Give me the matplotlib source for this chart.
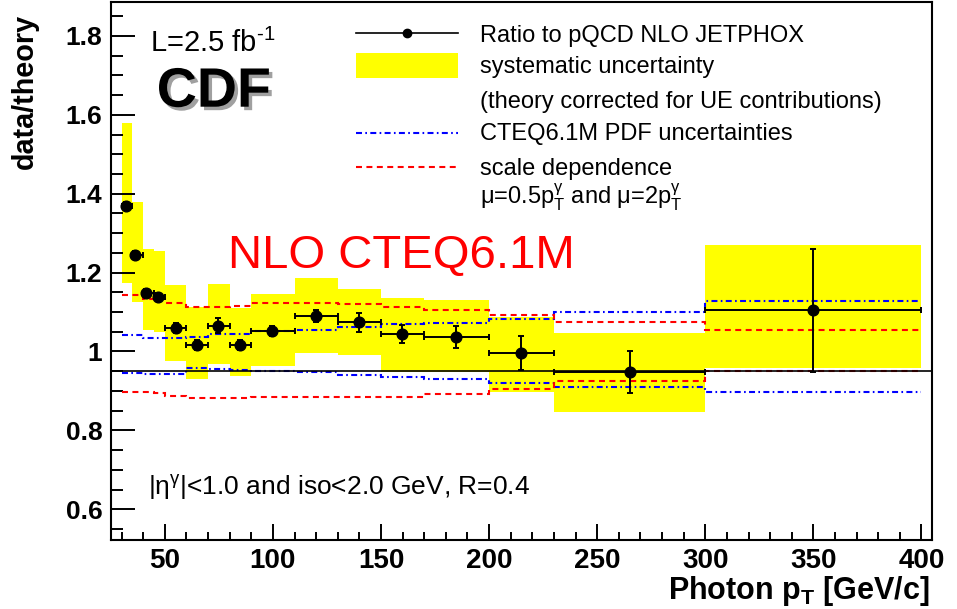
import matplotlib
matplotlib.use("Agg")
import matplotlib.pyplot as plt
import matplotlib.patheffects as pe
from matplotlib.lines import Line2D
from matplotlib.patches import Rectangle
from matplotlib.ticker import MultipleLocator, FuncFormatter
import numpy as np

plt.rcParams['font.family'] = ['Liberation Sans', 'DejaVu Sans']
plt.rcParams['mathtext.fontset'] = 'custom'
plt.rcParams['mathtext.rm'] = 'Liberation Sans'
plt.rcParams['mathtext.it'] = 'Liberation Sans:italic'
plt.rcParams['mathtext.bf'] = 'Liberation Sans:bold'
plt.rcParams['lines.scale_dashes'] = False

# bin edges in photon pT [GeV/c]
edges = [30, 35, 40, 45, 50, 60, 70, 80, 90, 110, 130, 150, 170, 200, 230, 300, 400]

# measured ratio data/theory
pt = [31.9, 36.4, 41.5, 46.9, 55.1, 64.8, 74.8, 85.0, 99.7, 120.0, 140.0, 159.7, 184.8, 214.8, 265.0, 350.0]
ratio = [1.369, 1.245, 1.148, 1.139, 1.059, 1.016, 1.065, 1.016, 1.052, 1.089, 1.074, 1.045, 1.037, 0.996, 0.947, 1.104]
stat = [0.01, 0.01, 0.01, 0.01, 0.012, 0.012, 0.019, 0.012, 0.012, 0.015, 0.024, 0.023, 0.028, 0.042, 0.053, 0.156]

# systematic band (low / high edge per bin)
sys_lo = [1.173, 1.125, 1.054, 1.050, 0.976, 0.931, 0.967, 0.937, 0.964, 0.995, 0.990, 0.948, 0.948, 0.897, 0.847, 0.958]
sys_hi = [1.580, 1.380, 1.259, 1.255, 1.169, 1.112, 1.172, 1.111, 1.145, 1.185, 1.159, 1.136, 1.130, 1.088, 1.046, 1.271]

# CTEQ6.1M PDF uncertainties
pdf_up = [1.041, 1.041, 1.035, 1.035, 1.035, 1.037, 1.045, 1.045, 1.051, 1.055, 1.062, 1.069, 1.073, 1.083, 1.100, 1.127]
pdf_lo = [0.946, 0.946, 0.944, 0.944, 0.944, 0.957, 0.955, 0.954, 0.951, 0.947, 0.941, 0.935, 0.929, 0.920, 0.911, 0.897]

# scale dependence mu=0.5pT and mu=2pT
scale_up = [1.144, 1.142, 1.134, 1.134, 1.123, 1.113, 1.113, 1.116, 1.124, 1.124, 1.120, 1.113, 1.104, 1.092, 1.075, 1.054]
scale_lo = [0.896, 0.896, 0.896, 0.894, 0.887, 0.881, 0.882, 0.883, 0.884, 0.884, 0.884, 0.884, 0.893, 0.904, 0.924, 0.951]

ref_line = 0.951

edges_a = np.array(edges)
pt_a = np.array(pt)
xerr = [pt_a - edges_a[:-1], edges_a[1:] - pt_a]

fig = plt.figure(figsize=(9.57, 6.09), dpi=100)
ax = fig.add_axes([0.1157, 0.1133, 0.8585, 0.8834])

ax.stairs(sys_hi, edges, baseline=sys_lo, fill=True, color='#ffff00', lw=0, zorder=1)

blue_dash = (0, (4.3, 2.4, 1.2, 2.4))
red_dash = (0, (4.3, 3.2))
ax.stairs(pdf_up, edges, baseline=None, color='#0000ff', lw=1.5, linestyle=blue_dash, zorder=2)
ax.stairs(pdf_lo, edges, baseline=None, color='#0000ff', lw=1.5, linestyle=blue_dash, zorder=2)
ax.stairs(scale_up, edges, baseline=None, color='#ff0000', lw=1.5, linestyle=red_dash, zorder=2)
ax.stairs(scale_lo, edges, baseline=None, color='#ff0000', lw=1.5, linestyle=red_dash, zorder=2)

ax.axhline(ref_line, color='black', lw=1.2, zorder=3)

ax.errorbar(pt, ratio, yerr=stat, xerr=xerr, fmt='o', color='black', ms=7.7,
            elinewidth=1.4, capsize=2.5, capthick=1.4, zorder=4)

ax.set_xlim(25, 405)
ax.set_ylim(0.522, 1.886)

ax.xaxis.set_major_locator(MultipleLocator(50))
ax.xaxis.set_minor_locator(MultipleLocator(10))
ax.yaxis.set_major_locator(MultipleLocator(0.2))
ax.yaxis.set_minor_locator(MultipleLocator(0.05))
ax.yaxis.set_major_formatter(FuncFormatter(lambda v, p: '%g' % round(v, 2)))

ax.tick_params(axis='both', which='both', direction='in', width=1.4, top=False, right=False)
ax.tick_params(axis='x', which='major', length=11.5, labelsize=20, pad=6)
ax.tick_params(axis='x', which='minor', length=5.8)
ax.tick_params(axis='y', which='major', length=17, labelsize=19, pad=6)
ax.tick_params(axis='y', which='minor', length=8.6)
for lab in ax.get_xticklabels() + ax.get_yticklabels():
    lab.set_fontweight('bold')
for s in ax.spines.values():
    s.set_linewidth(1.5)

fig.text(25 / 957, 1 - 14 / 609, 'data/theory', rotation=90, ha='center', va='top',
         fontsize=20.7, fontweight='bold')
fig.text(930 / 957, 1 - 599 / 609, r'Photon p$_\mathbf{T}$ [GeV/c]', ha='right', va='baseline',
         fontsize=22, fontweight='bold')

ax.text(0.0478, 0.9076, r'L=2.5 fb$^{\text{-}1}$', transform=ax.transAxes, fontsize=21, va='baseline')
ax.text(0.056, 0.8054, 'CDF', transform=ax.transAxes, fontsize=40, fontweight='bold', va='baseline',
        path_effects=[pe.SimplePatchShadow(offset=(2.5, -2.5), shadow_rgbFace='#888888', alpha=0.8),
                      pe.Normal()])
ax.text(0.1428, 0.5056, 'NLO CTEQ6.1M', transform=ax.transAxes, fontsize=34, color='#ff0000',
        va='baseline')
ax.text(0.0454, 0.0836, r'|η$^{\mathrm{\gamma}}$|<1.0 and iso<2.0 GeV, R=0.4', transform=ax.transAxes,
        fontsize=19, va='baseline')

# legend drawn by hand, ROOT style
lx0, lx1, ltx = 0.2980, 0.4229, 0.4495
lxm = (lx0 + lx1) / 2
ax.add_line(Line2D([lx0, lx1], [0.9424, 0.9424], transform=ax.transAxes, color='black', lw=1.2))
ax.add_line(Line2D([lxm], [0.9424], transform=ax.transAxes, marker='o', color='black', ms=6))
ax.add_patch(Rectangle((lx0, 0.8593), lx1 - lx0, 0.0454, transform=ax.transAxes,
                       facecolor='#ffff00', edgecolor='none'))
ax.add_line(Line2D([lx0, lx1], [0.7559, 0.7559], transform=ax.transAxes, color='#0000ff', lw=1.5,
                   linestyle=blue_dash))
ax.add_line(Line2D([lx0, lx1], [0.6939, 0.6939], transform=ax.transAxes, color='#ff0000', lw=1.5,
                   linestyle=red_dash))
legend_rows = [
    ('Ratio to pQCD NLO JETPHOX', 0.9262),
    ('systematic uncertainty', 0.8675),
    ('(theory corrected for UE contributions)', 0.8024),
    ('CTEQ6.1M PDF uncertainties', 0.7435),
    ('scale dependence', 0.6784),
    (r'μ=0.5p$_\mathrm{T}^{\mathrm{\gamma}}$ and μ=2p$_\mathrm{T}^{\mathrm{\gamma}}$', 0.6245),
]
for txt, y in legend_rows:
    ax.text(ltx, y, txt, transform=ax.transAxes, fontsize=17, va='baseline')

fig.savefig('out.png', dpi=100)
